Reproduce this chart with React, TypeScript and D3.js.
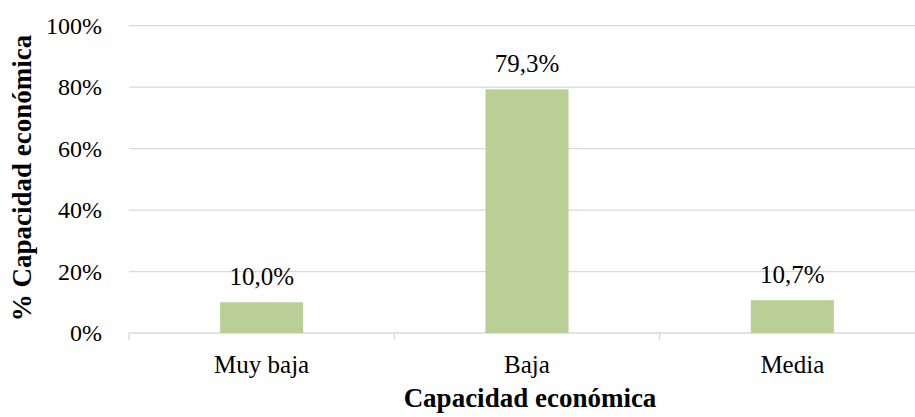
import React, { useEffect, useRef } from 'react';
import * as d3 from 'd3';

const categories = ['Muy baja', 'Baja', 'Media'];
const values = [10.0, 79.3, 10.7];
const yTicks = [0, 20, 40, 60, 80, 100];

const App = () => {
    const ref = useRef<SVGSVGElement>(null);

    useEffect(() => {
        document.body.style.margin = '0';
        const width = 915;
        const height = 417;
        const left = 129;
        const right = 925; // plot runs slightly past the picture edge
        const top = 25.7;
        const bottom = 333;
        const font = '"Liberation Serif", "Times New Roman", serif';

        const x = d3.scaleBand().domain(categories).range([left, right]).padding(0);
        const y = d3.scaleLinear().domain([0, 100]).range([bottom, top]);
        const barW = x.bandwidth() * 0.313;

        const svg = d3.select(ref.current);
        svg.selectAll('*').remove();
        svg.attr('width', width).attr('height', height).style('font-family', font);

        // gridlines
        svg.append('g')
            .selectAll('line')
            .data(yTicks)
            .join('line')
            .attr('x1', left)
            .attr('x2', right)
            .attr('y1', d => y(d))
            .attr('y2', d => y(d))
            .attr('stroke', '#d9d9d9')
            .attr('stroke-width', 1.3);

        // category tick marks
        const edges = [...categories.map(c => x(c) as number), right];
        svg.append('g')
            .selectAll('line')
            .data(edges)
            .join('line')
            .attr('x1', d => d)
            .attr('x2', d => d)
            .attr('y1', bottom)
            .attr('y2', bottom + 7)
            .attr('stroke', '#d9d9d9')
            .attr('stroke-width', 1.3);

        // y tick labels
        svg.append('g')
            .selectAll('text')
            .data(yTicks)
            .join('text')
            .attr('x', 102)
            .attr('y', d => y(d) + 8)
            .attr('text-anchor', 'end')
            .style('font-size', '24px')
            .attr('fill', '#000')
            .text(d => `${d}%`);

        // bars
        svg.append('g')
            .selectAll('rect')
            .data(values)
            .join('rect')
            .attr('x', (d, i) => (x(categories[i]) as number) + x.bandwidth() / 2 - barW / 2)
            .attr('y', d => y(d))
            .attr('width', barW)
            .attr('height', d => bottom - y(d))
            .attr('fill', '#bacf96');

        // data labels
        svg.append('g')
            .selectAll('text')
            .data(values)
            .join('text')
            .attr('x', (d, i) => (x(categories[i]) as number) + x.bandwidth() / 2)
            .attr('y', d => y(d) - 17.5)
            .attr('text-anchor', 'middle')
            .style('font-size', '25px')
            .text(d => `${d.toFixed(1).replace('.', ',')}%`);

        // category labels
        svg.append('g')
            .selectAll('text')
            .data(categories)
            .join('text')
            .attr('x', d => (x(d) as number) + x.bandwidth() / 2)
            .attr('y', 373)
            .attr('text-anchor', 'middle')
            .style('font-size', '25px')
            .text(d => d);

        // axis titles
        svg.append('text')
            .attr('x', 530)
            .attr('y', 407)
            .attr('text-anchor', 'middle')
            .style('font-size', '27px')
            .style('font-weight', 'bold')
            .text('Capacidad económica');

        svg.append('text')
            .attr('transform', 'translate(31,178) rotate(-90)')
            .attr('text-anchor', 'middle')
            .style('font-size', '27px')
            .style('font-weight', 'bold')
            .text('% Capacidad económica');
    }, []);

    return <svg ref={ref} style={{ display: 'block' }}></svg>;
};

export default App;
